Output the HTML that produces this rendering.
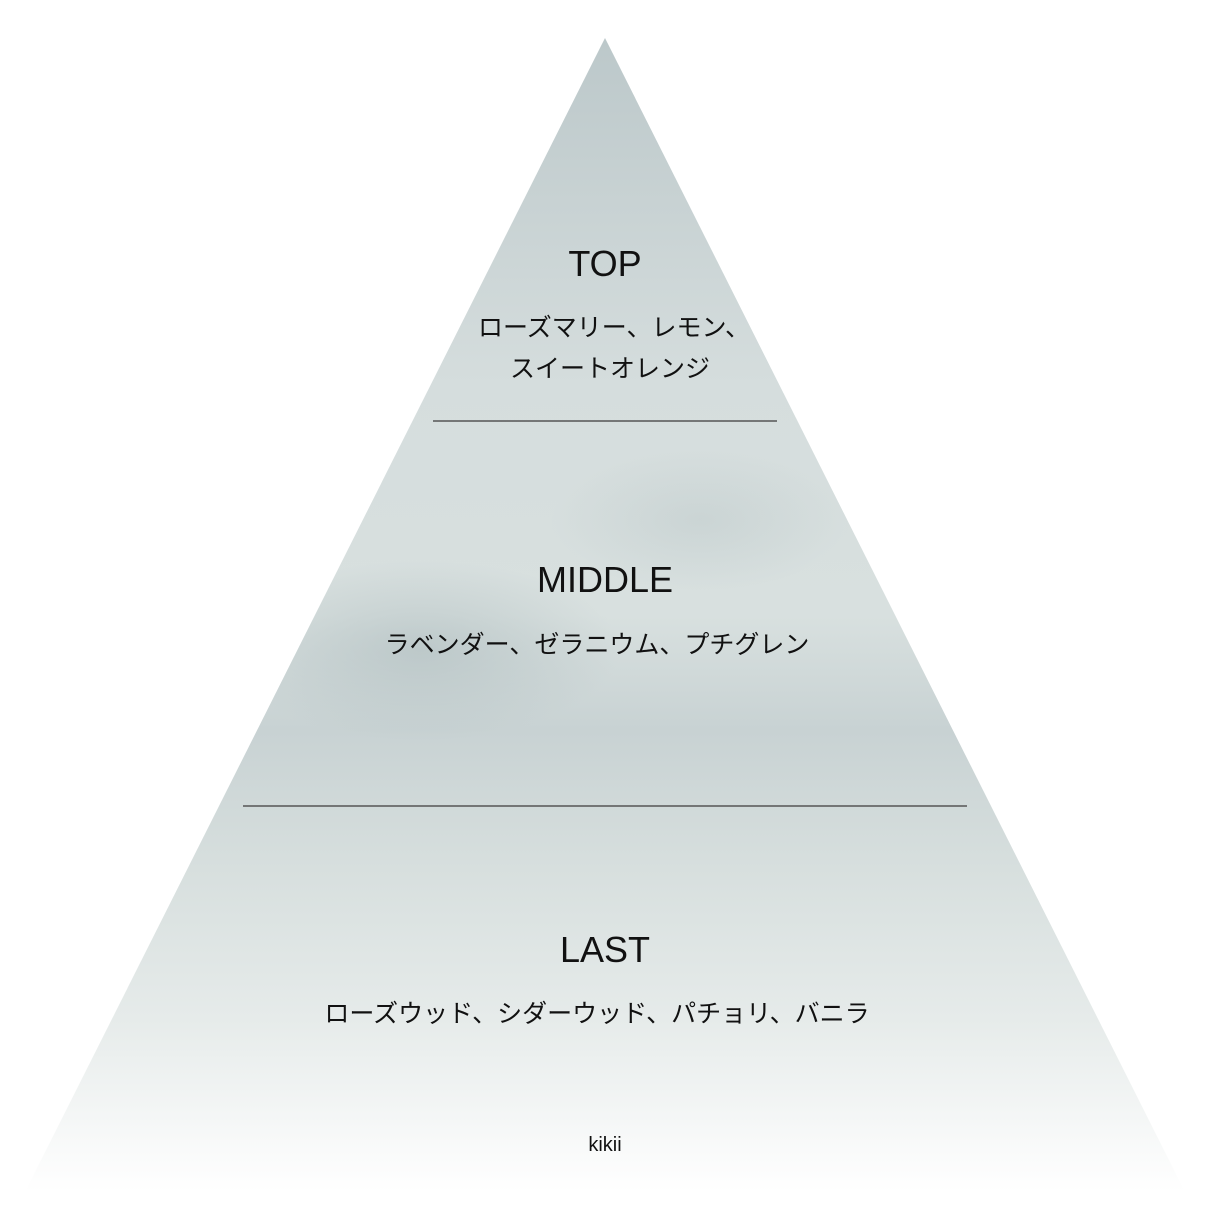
<!DOCTYPE html>
<html><head><meta charset="utf-8"><style>
html,body{margin:0;padding:0;background:#fff;}
svg{display:block}
text{font-family:"Liberation Sans","Noto Sans CJK JP",sans-serif;fill:#111;text-anchor:middle}
</style></head><body>
<svg width="1210" height="1210" viewBox="0 0 1210 1210" xmlns="http://www.w3.org/2000/svg">
<defs>
<linearGradient id="g" x1="0" y1="0" x2="0" y2="1">
<stop offset="0" stop-color="#bcc8ca"/>
<stop offset="0.3" stop-color="#d5dddd"/>
<stop offset="0.5" stop-color="#d8e0df"/>
<stop offset="0.6" stop-color="#c8d2d3"/>
<stop offset="0.72" stop-color="#d7dfde"/>
<stop offset="0.85" stop-color="#e6ebea"/>
<stop offset="1" stop-color="#ffffff"/>
</linearGradient>
<radialGradient id="b" cx="0.5" cy="0.5" r="0.5">
<stop offset="0" stop-color="#aebcbe" stop-opacity="0.6"/>
<stop offset="1" stop-color="#aebcbe" stop-opacity="0"/>
</radialGradient>
<clipPath id="c"><polygon points="605,38 25,1192 1185,1192"/></clipPath>
</defs>
<polygon points="605,38 25,1192 1185,1192" fill="url(#g)"/>
<g clip-path="url(#c)">
<ellipse cx="420" cy="650" rx="200" ry="90" fill="url(#b)"/>
<ellipse cx="700" cy="520" rx="150" ry="70" fill="url(#b)" opacity="0.5"/>
</g>
<line x1="433" y1="421" x2="777" y2="421" stroke="#555" stroke-width="1.5"/>
<line x1="243" y1="806" x2="967" y2="806" stroke="#555" stroke-width="1.5"/>
<text x="605" y="276" font-size="36">TOP</text>
<text x="614" y="336" font-size="25">ローズマリー、レモン、</text>
<text x="610" y="377" font-size="25">スイートオレンジ</text>
<text x="605" y="592" font-size="36">MIDDLE</text>
<text x="597" y="653" font-size="25">ラベンダー、ゼラニウム、プチグレン</text>
<text x="605" y="962" font-size="36">LAST</text>
<text x="597" y="1022" font-size="25">ローズウッド、シダーウッド、パチョリ、バニラ</text>
<text x="605" y="1151" font-size="20">kikii</text>
</svg>
</body></html>
